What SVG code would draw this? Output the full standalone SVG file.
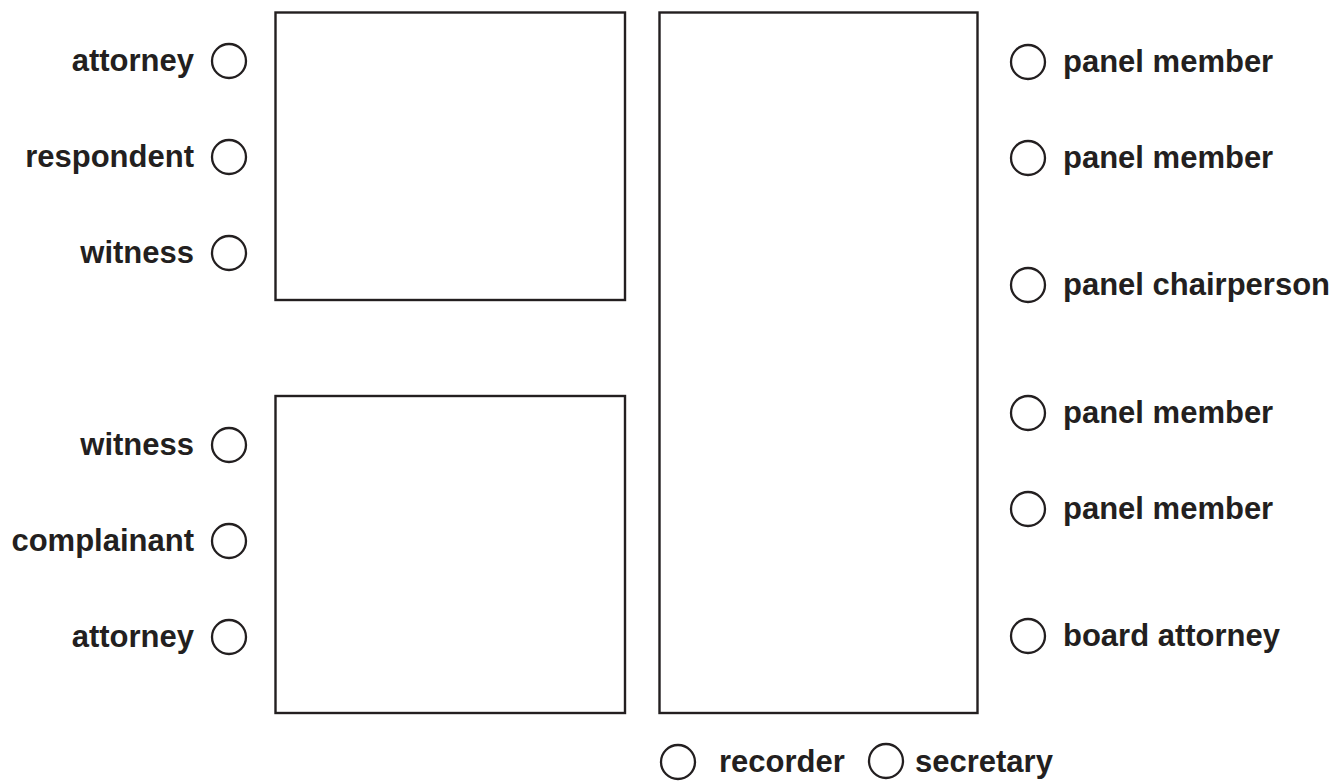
<svg xmlns="http://www.w3.org/2000/svg" width="1338" height="782" viewBox="0 0 1338 782">
<style>
.box{fill:none;stroke:#231f20;stroke-width:2.4}
.seat{fill:#fff;stroke:#231f20;stroke-width:2.3}
.lbl{font-family:"Liberation Sans",Arial,Helvetica,sans-serif;font-weight:bold;font-size:31px;fill:#231f20}
.l{text-anchor:end}
</style>
<rect width="1338" height="782" fill="#fff"/>
<g id="tables">
<rect id="table-respondent" class="box" x="275.5" y="12.5" width="349.5" height="287.5"/>
<rect id="table-complainant" class="box" x="275.5" y="396" width="349.5" height="317"/>
<rect id="table-panel" class="box" x="659.5" y="12.5" width="318" height="700.5"/>
</g>
<g id="connectors"></g>
<g id="seat-attorney-1"><circle class="seat" cx="229" cy="61" r="17"/><text class="lbl l" x="194" y="71">attorney</text></g>
<g id="seat-respondent"><circle class="seat" cx="229" cy="157" r="17"/><text class="lbl l" x="194" y="167">respondent</text></g>
<g id="seat-witness-1"><circle class="seat" cx="229" cy="253" r="17"/><text class="lbl l" x="194" y="263">witness</text></g>
<g id="seat-witness-2"><circle class="seat" cx="229" cy="445" r="17"/><text class="lbl l" x="194" y="455">witness</text></g>
<g id="seat-complainant"><circle class="seat" cx="229" cy="541" r="17"/><text class="lbl l" x="194" y="551">complainant</text></g>
<g id="seat-attorney-2"><circle class="seat" cx="229" cy="637" r="17"/><text class="lbl l" x="194" y="647">attorney</text></g>
<g id="seat-panel-1"><circle class="seat" cx="1028" cy="62" r="17"/><text class="lbl" x="1063" y="72">panel member</text></g>
<g id="seat-panel-2"><circle class="seat" cx="1028" cy="158" r="17"/><text class="lbl" x="1063" y="168">panel member</text></g>
<g id="seat-chair"><circle class="seat" cx="1028" cy="285" r="17"/><text class="lbl" x="1063" y="295">panel chairperson</text></g>
<g id="seat-panel-3"><circle class="seat" cx="1028" cy="413" r="17"/><text class="lbl" x="1063" y="423">panel member</text></g>
<g id="seat-panel-4"><circle class="seat" cx="1028" cy="509" r="17"/><text class="lbl" x="1063" y="519">panel member</text></g>
<g id="seat-board-attorney"><circle class="seat" cx="1028" cy="636" r="17"/><text class="lbl" x="1063" y="646">board attorney</text></g>
<g id="seat-recorder"><circle class="seat" cx="678" cy="762" r="17"/><text class="lbl" x="719" y="772">recorder</text></g>
<g id="seat-secretary"><circle class="seat" cx="886" cy="761" r="17"/><text class="lbl" x="915" y="772">secretary</text></g>
</svg>
